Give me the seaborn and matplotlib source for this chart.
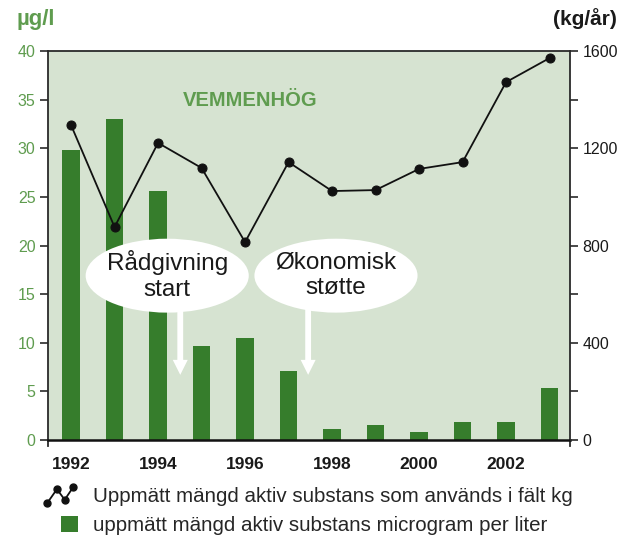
import numpy as np
import pandas as pd
import matplotlib
matplotlib.use("Agg")
import matplotlib.pyplot as plt
import seaborn as sns
from matplotlib.patches import Ellipse, Rectangle
from matplotlib.lines import Line2D
from matplotlib.legend_handler import HandlerBase

years = [1992, 1993, 1994, 1995, 1996, 1997, 1998, 1999, 2000, 2001, 2002, 2003]
conc_ugl = [29.8, 33.0, 25.6, 9.7, 10.5, 7.1, 1.1, 1.5, 0.8, 1.9, 1.9, 5.3]
usage_kg = [1295, 876, 1222, 1119, 814, 1143, 1024, 1028, 1115, 1143, 1472, 1571]
xtick_years = [1992, 1994, 1996, 1998, 2000, 2002]
left_ticks = [0, 5, 10, 15, 20, 25, 30, 35, 40]
right_ticks = [0, 400, 800, 1200, 1600]
title_text = "VEMMENHÖG"
note1 = "Rådgivning\nstart"
note2 = "Økonomisk\nstøtte"
legend_line = "Uppmätt mängd aktiv substans som används i fält kg"
legend_bar = "uppmätt mängd aktiv substans microgram per liter"

BAR = "#367d2c"
BG = "#d6e3d1"
GREEN_TXT = "#5f9c4f"
SPINE = "#2a2a2a"

sns.set_theme(style="white")
plt.rcParams['font.family'] = ['Liberation Sans', 'DejaVu Sans']

df = pd.DataFrame({"year": years, "conc": conc_ugl, "usage": usage_kg})

fig = plt.figure(figsize=(6.22, 5.37), dpi=100)
ax = fig.add_axes([0.0772, 0.1806, 0.8392, 0.7244])
ax.set_facecolor(BG)

sns.barplot(data=df, x="year", y="conc", native_scale=True, width=0.41,
            color=BAR, saturation=1, linewidth=0, edgecolor="none", ax=ax, zorder=2)
ax.set_xlim(1991.47, 2003.47)
ax.set_ylim(0, 40)
ax.set_yticks(left_ticks)
ax.set_xticks(xtick_years)
ax.set_xticklabels([str(y) for y in xtick_years], fontweight="bold", fontsize=12.5, color="#1a1a1a")
ax.tick_params(axis="x", length=0, pad=12)
ax.tick_params(axis="y", colors=SPINE, labelcolor=GREEN_TXT, labelsize=11.5,
               direction="out", length=6, width=1.2, pad=3, left=True)
ax.set_xlabel("")
ax.set_ylabel("")
for s in ["left", "right", "top"]:
    ax.spines[s].set_color(SPINE)
    ax.spines[s].set_linewidth(1.3)
ax.spines["left"].set_bounds(-0.6, 40)
ax.spines["right"].set_bounds(-0.6, 40)
ax.spines["bottom"].set_color("#111111")
ax.spines["bottom"].set_linewidth(1.8)

ax2 = ax.twinx()
sns.lineplot(data=df, x="year", y="usage", marker="o", markersize=6.5, color="#111111",
             markeredgecolor="#111111", linewidth=1.3, ax=ax2, zorder=3)
ax2.set_ylim(0, 1600)
ax2.set_yticks(right_ticks)
ax2.set_yticks(np.arange(0, 1601, 200), minor=True)
ax2.tick_params(axis="y", which="both", colors=SPINE, labelcolor="#1a1a1a", labelsize=11.5,
                direction="out", length=6, width=1.2, pad=3, right=True)
ax2.set_ylabel("")
ax2.set_xlabel("")
for s in ["left", "right", "top", "bottom"]:
    ax2.spines[s].set_visible(False)

# annotation ellipses and arrows (drawn in the left-axis data space)
for cx, cy, txt, ax_x in [(1994.21, 16.9, note1, 1994.51), (1998.09, 16.9, note2, 1997.45)]:
    e = Ellipse((cx, cy), width=3.75, height=7.6, facecolor="white", edgecolor="none",
                transform=ax.transData, zorder=5)
    ax2.add_patch(e)
    ax2.annotate("", xy=(ax_x, 6.7), xytext=(ax_x, 13.8),
                 xycoords=ax.transData, textcoords=ax.transData,
                 arrowprops=dict(arrowstyle="simple,head_width=0.9,head_length=0.9,tail_width=0.35",
                                 facecolor="white", edgecolor="none", shrinkA=0, shrinkB=0),
                 zorder=4)
    ax2.text(cx, cy, txt, transform=ax.transData, ha="center", va="center",
             fontsize=17.5, linespacing=1.2, color="#1a1a1a", zorder=6)

ax2.text(0.387, 0.872, title_text, transform=ax.transAxes, ha="center", va="center",
         fontsize=14.5, fontweight="bold", color=GREEN_TXT, zorder=6)

fig.text(17 / 622, 1 - 19 / 537, "µg/l", ha="left", va="center", fontsize=16,
         fontweight="bold", color=GREEN_TXT)
fig.text(617 / 622, 1 - 19 / 537, "(kg/år)", ha="right", va="center", fontsize=15,
         fontweight="bold", color="#1a1a1a")


class ZigZagHandler(HandlerBase):
    def create_artists(self, legend, orig_handle, xdescent, ydescent, width, height, fontsize, trans):
        x0 = -xdescent
        y0 = -ydescent
        xs = [x0 + width * f for f in (0.05, 0.38, 0.65, 0.95)]
        ys = [y0 + height * f for f in (0.0, 0.9, 0.2, 1.05)]
        ln = Line2D(xs, ys, color="#111111", lw=1.3, marker="o", markersize=5,
                    transform=trans)
        return [ln]


class SquareHandler(HandlerBase):
    def create_artists(self, legend, orig_handle, xdescent, ydescent, width, height, fontsize, trans):
        side = height * 1.1
        r = Rectangle((-xdescent + width - side + 2, -ydescent - 1), side, side,
                      facecolor=BAR, edgecolor="none", transform=trans)
        return [r]


h_line = Line2D([], [], color="#111111")
h_bar = Rectangle((0, 0), 1, 1, color=BAR)
fig.legend([h_line, h_bar], [legend_line, legend_bar],
           handler_map={Line2D: ZigZagHandler(), Rectangle: SquareHandler()},
           loc="center left", bbox_to_anchor=(46 / 622, 1 - 511 / 537),
           frameon=False, fontsize=14.8, handlelength=1.4, handleheight=0.75,
           handletextpad=0.9, labelspacing=0.45, borderpad=0, borderaxespad=0)

fig.savefig("out.png", dpi=100, facecolor="white")
